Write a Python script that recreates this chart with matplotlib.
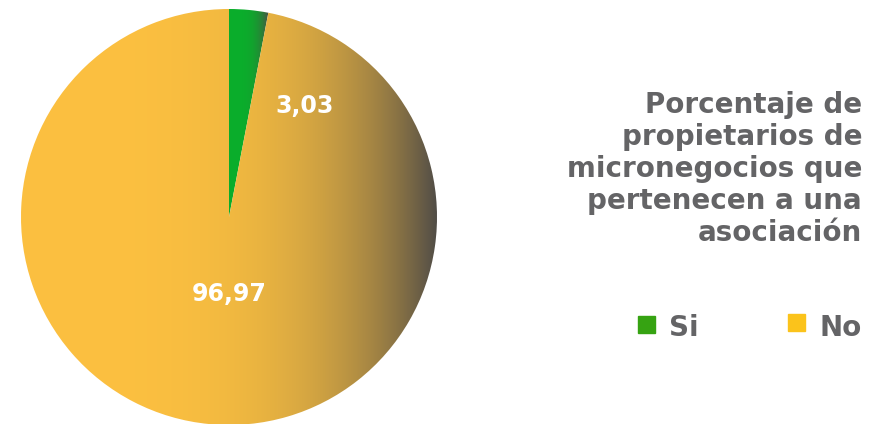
import numpy as np
import matplotlib.pyplot as plt
from matplotlib.colors import to_rgb

categories = ["Si", "No"]
values = [3.03, 96.97]
value_labels = ["3,03", "96,97"]
title_lines = ["Porcentaje de", "propietarios de", "micronegocios que",
               "pertenecen a una", "asociación"]

pie_colors = ["#0AAE2B", "#FCC040"]
legend_colors = ["#36A312", "#FBC31B"]
dark = "#4E4B47"
text_gray = "#646466"
font = "DejaVu Sans"

fig = plt.figure(figsize=(8.85, 4.24), dpi=100)
ax = fig.add_axes([21 / 885, -1 / 424, 416 / 885, 416 / 424])

wedges, _ = ax.pie(values, colors=pie_colors, startangle=90, counterclock=False,
                   radius=1.0, wedgeprops=dict(linewidth=0))

# horizontal shading of each slice, darker towards its right edge
for w, c in zip(wedges, pie_colors):
    verts = w.get_path().vertices
    x0, x1 = verts[:, 0].min(), verts[:, 0].max()
    y0, y1 = verts[:, 1].min(), verts[:, 1].max()
    xs = np.linspace(x0, x1, 600)
    t = ((xs - x0) / (x1 - x0)) ** 4
    base = np.array(to_rgb(c))
    end = np.array(to_rgb(dark))
    row = base[None, :] * (1 - t[:, None]) + end[None, :] * t[:, None]
    img = np.repeat(row[None, :, :], 2, axis=0)
    im = ax.imshow(img, extent=[x0, x1, y0, y1], origin="lower", aspect="auto",
                   interpolation="bilinear", zorder=2)
    im.set_clip_path(w)
    w.set_alpha(0)

ax.set_xlim(-1, 1)
ax.set_ylim(-1, 1)
ax.set_aspect("equal")
ax.axis("off")

label_pos = [(0.365, 0.535), (0.0, -0.37)]
for (x, y), s in zip(label_pos, value_labels):
    ax.text(x, y, s, color="white", fontsize=17, fontweight="bold",
            fontfamily=font, ha="center", va="center", zorder=5)

for i, line in enumerate(title_lines):
    fig.text(862 / 885, 1 - (113 + 32 * i) / 424, line, ha="right", va="baseline",
             fontsize=20, fontweight="bold", color=text_gray, fontfamily=font)

leg_x = [638, 788]
leg_y = [333, 331]
for lx, ly, lab, col in zip(leg_x, leg_y, categories, legend_colors):
    fig.patches.append(plt.Rectangle((lx / 885, 1 - ly / 424), 17 / 885, 17 / 424,
                                     transform=fig.transFigure, color=col))
    fig.text((lx + 31) / 885, 1 - 336 / 424, lab, ha="left", va="baseline",
             fontsize=20, fontweight="bold", color=text_gray, fontfamily=font)

fig.savefig("out.png", dpi=100)
